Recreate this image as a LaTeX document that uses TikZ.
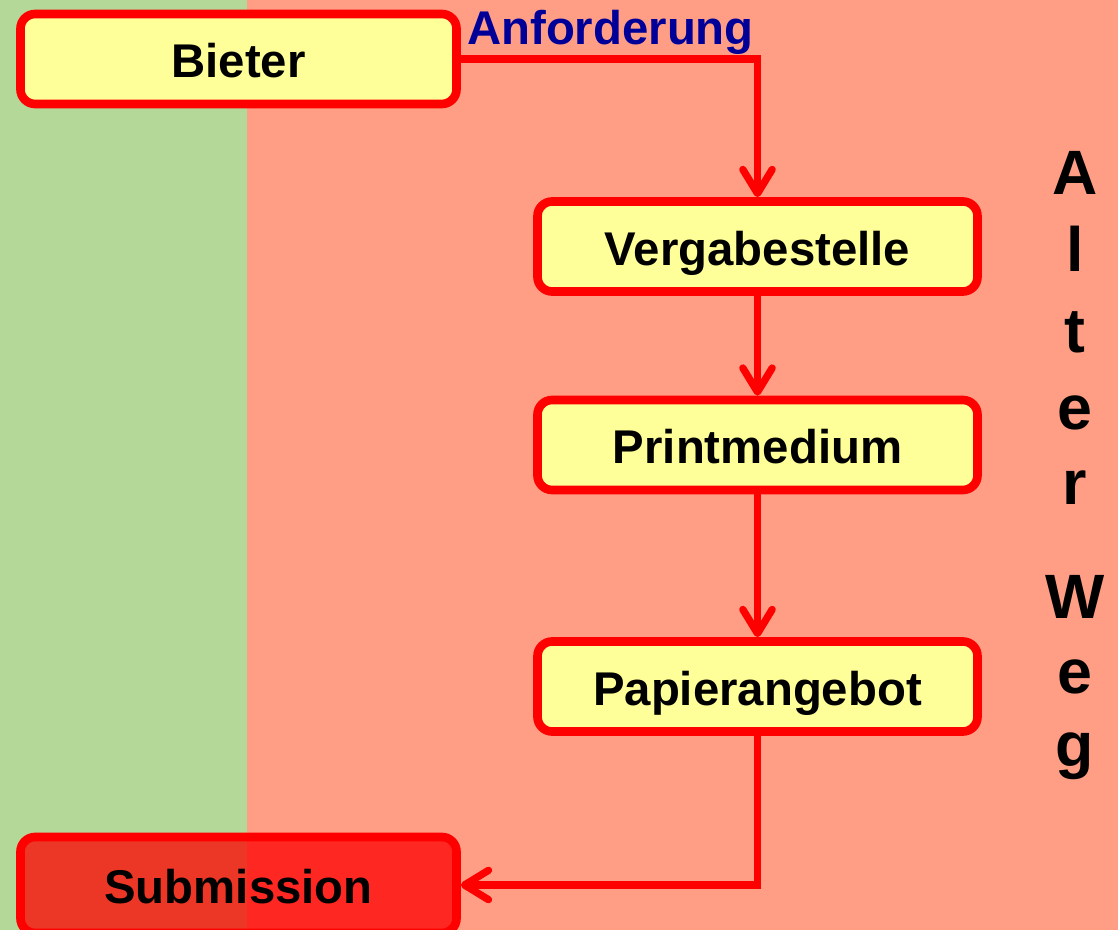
\documentclass[tikz,border=0pt]{standalone}
\usepackage{fontspec}
\setmainfont{Liberation Sans}
\usetikzlibrary{arrows.meta}

\definecolor{wegred}{RGB}{255,0,0}
\definecolor{boxyellow}{RGB}{255,255,153}
\definecolor{newgreen}{RGB}{180,216,152}
\definecolor{oldsalmon}{RGB}{255,158,133}
\definecolor{reqblue}{RGB}{0,0,153}

\begin{document}
\begin{tikzpicture}[x=0.75pt,y=-0.75pt,
  box/.style={draw=wegred,line width=6.5pt,fill=boxyellow,rounded corners=11pt,
    minimum width=327pt,minimum height=67.5pt,inner sep=0pt,
    text height=28pt,text depth=0pt,
    font=\fontsize{35.5}{40}\selectfont\bfseries},
  conn/.style={draw=wegred,line width=5.5pt,
    -{Straight Barb[length=18pt,width=22pt,round]}},
  weg/.style={anchor=base,inner sep=0pt,font=\fontsize{47}{50}\selectfont\bfseries}]
\useasboundingbox (0,0) rectangle (1118,930);
\fill[newgreen] (0,0) rectangle (247,930);
\fill[oldsalmon] (247,0) rectangle (1118,930);

\node[box] (bieter) at (238.5,59) {Bieter};
\node[box,minimum width=330pt] (verg) at (757.5,246.5) {Vergabestelle};
\node[box,minimum width=330pt] (print) at (757.5,445) {Printmedium};
\node[box,minimum width=330pt] (papier) at (757.5,686.5) {Papierangebot};
\node[box,fill=wegred,fill opacity=0.75,text opacity=1,minimum height=72pt]
  (subm) at (238.5,885) {Submission};

\draw[conn] (bieter.east) -| node[pos=0,anchor=base west,xshift=2pt,yshift=11pt,
    inner sep=0pt,text=reqblue,font=\fontsize{35.5}{40}\selectfont\bfseries]
    (req) {Anforderung} (verg.north);
\draw[conn] (verg.south) -- (print.north);
\draw[conn] (print.south) -- (papier.north);
\draw[conn] (papier.south) |- (subm.east);

% Alter Weg
\foreach \ch/\yb [count=\i] in {A/195,l/272,t/353,e/430,r/505,W/618,e/693,g/766} {
  \node[weg] (weg\i) at (1075,\yb) {\ch};
}
\end{tikzpicture}
\end{document}
